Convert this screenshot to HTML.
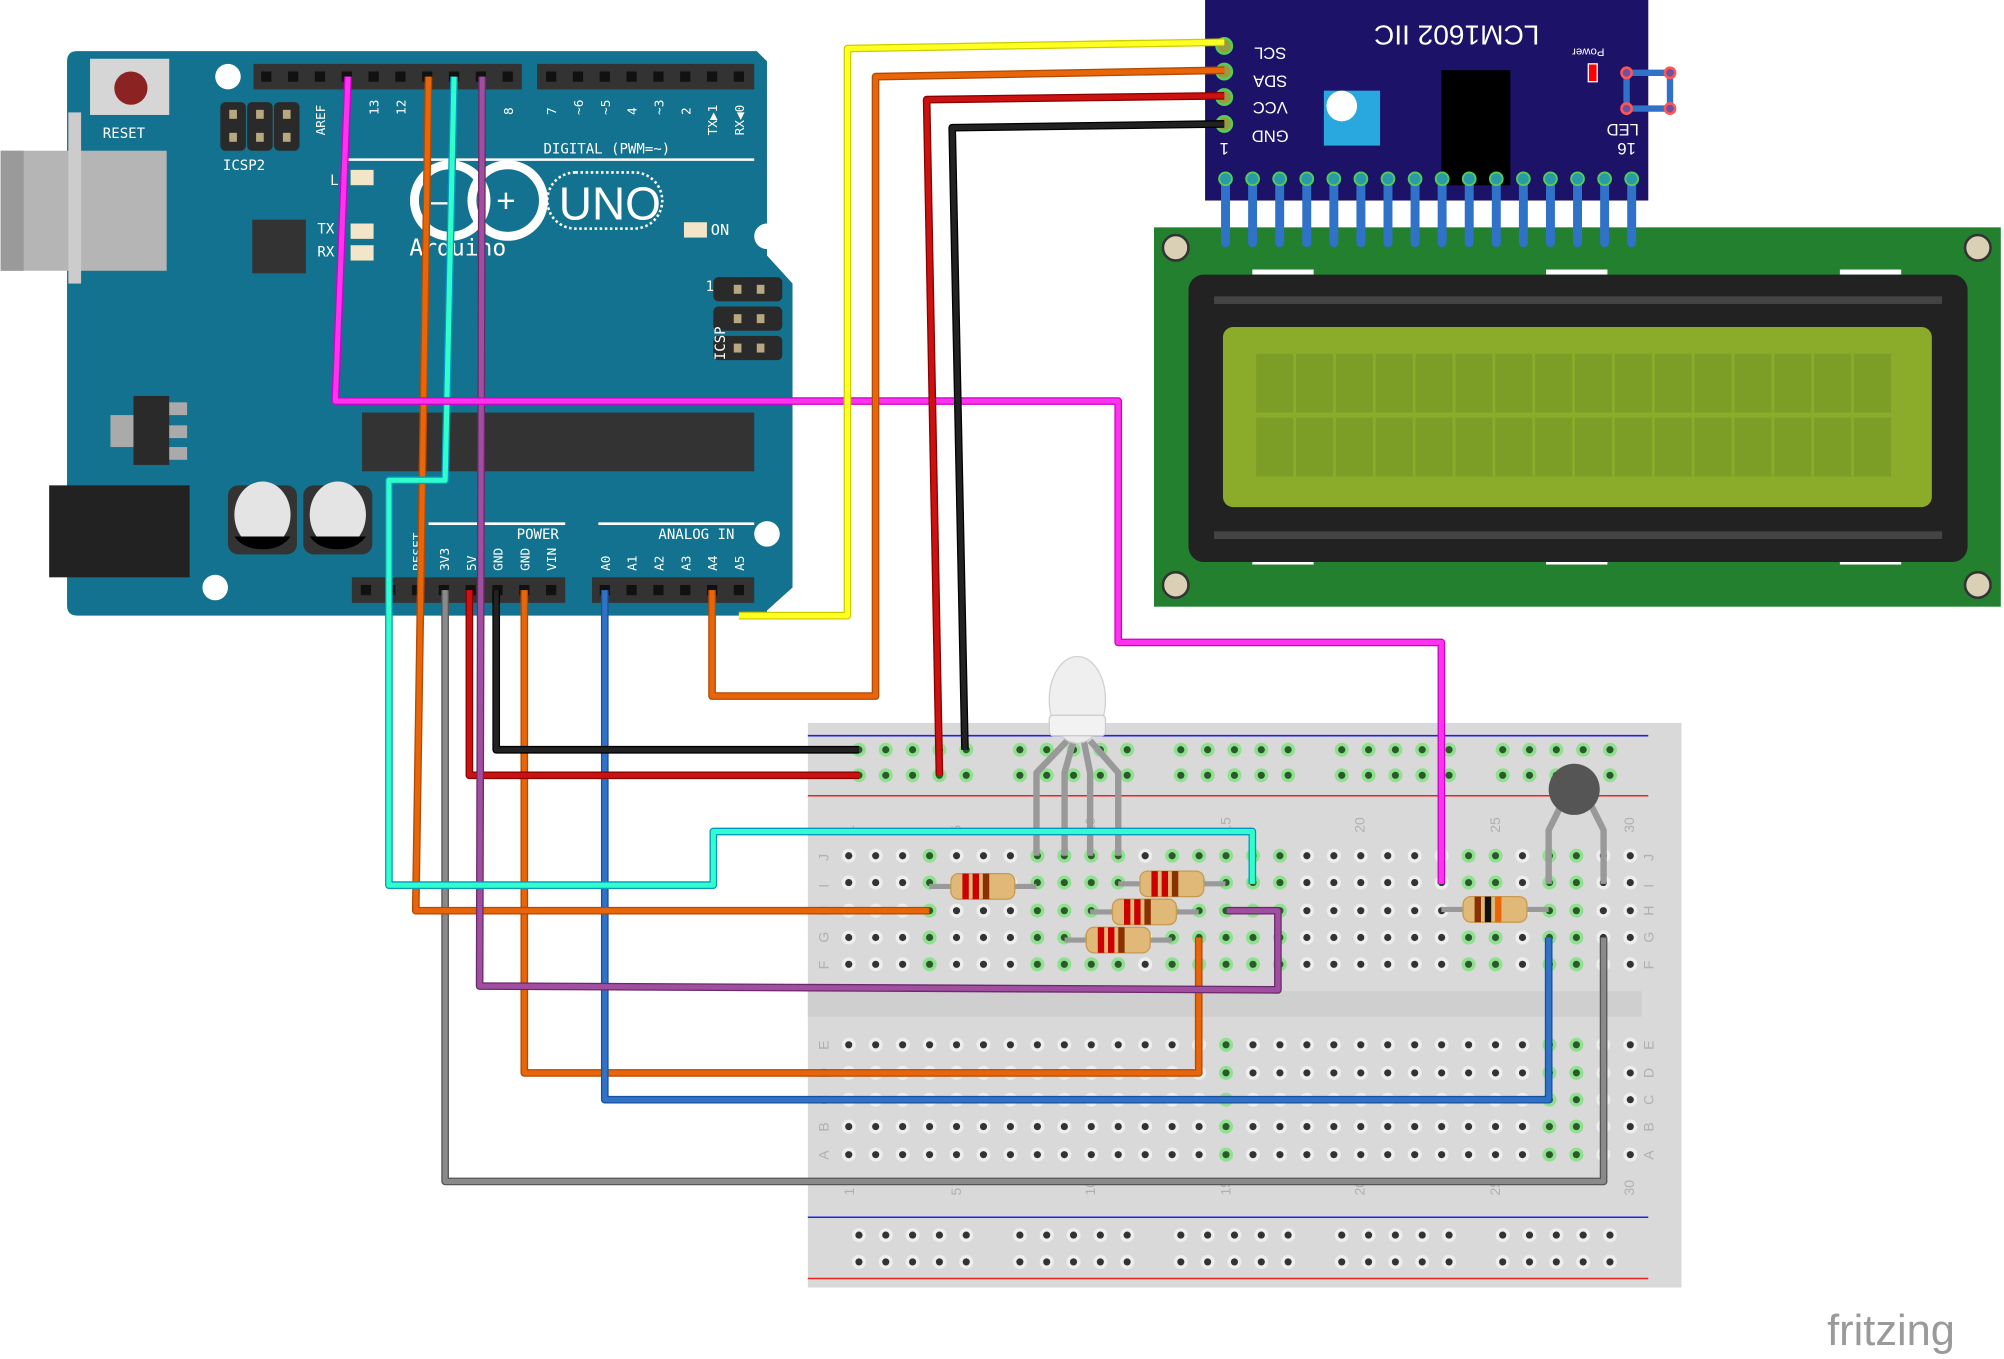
<!DOCTYPE html>
<html><head><meta charset="utf-8"><style>
html,body{margin:0;padding:0;background:#fff;}
svg{display:block;}
.m{font-family:"DejaVu Sans Mono","Liberation Mono",monospace;}
.s{font-family:"Liberation Sans",sans-serif;}
</style></head><body>
<svg id="s" width="2004" height="1359" viewBox="0 0 1568 1064" xmlns="http://www.w3.org/2000/svg">
<!-- Arduino -->
<path d="M52,48 Q52,40 60,40 L592,40 L600,48 L600,200 L620,222 L620,460 L600,478 L600,482 L60,482 Q52,482 52,474 Z" fill="#13728f"/>
<rect x="0" y="118" width="130" height="94" fill="#b5b5b5"/>
<rect x="0" y="118" width="18" height="94" fill="#9a9a9a"/>
<rect x="53" y="88" width="10" height="134" fill="#ccc"/>
<rect x="70" y="46" width="62" height="44" fill="#d6d6d6"/>
<circle cx="102" cy="69" r="13" fill="#8b2323"/>
<text class="m" x="80" y="108" font-size="11" fill="#fff">RESET</text>
<circle cx="178" cy="60" r="10" fill="#fff"/>
<circle cx="600" cy="185" r="10" fill="#fff"/><circle cx="600" cy="418" r="10" fill="#fff"/><circle cx="168" cy="460" r="10" fill="#fff"/>
<g fill="#2a2a2a"><rect x="172" y="80" width="20" height="38" rx="4"/><rect x="193" y="80" width="20" height="38" rx="4"/><rect x="214" y="80" width="20" height="38" rx="4"/>
<rect x="558" y="217" width="54" height="19" rx="4"/><rect x="558" y="240" width="54" height="19" rx="4"/><rect x="558" y="263" width="54" height="19" rx="4"/></g>
<g fill="#b8a880"><rect x="179" y="86" width="6" height="7"/><rect x="200" y="86" width="6" height="7"/><rect x="221" y="86" width="6" height="7"/><rect x="179" y="104" width="6" height="7"/><rect x="200" y="104" width="6" height="7"/><rect x="221" y="104" width="6" height="7"/>
<rect x="574" y="223" width="6" height="7"/><rect x="592" y="223" width="6" height="7"/><rect x="574" y="246" width="6" height="7"/><rect x="592" y="246" width="6" height="7"/><rect x="574" y="269" width="6" height="7"/><rect x="592" y="269" width="6" height="7"/></g>
<text class="m" x="174" y="133" font-size="11" fill="#fff">ICSP2</text>
<text class="m" x="552" y="228" font-size="11" fill="#fff">1</text>
<text class="m" x="0" y="0" font-size="11" fill="#fff" transform="translate(567,282) rotate(-90)">ICSP</text>
<rect x="198" y="50" width="210" height="20" fill="#333"/>
<rect x="420" y="50" width="170" height="20" fill="#333"/>
<rect x="197" y="172" width="42" height="42" fill="#333"/>
<g class="m" font-size="10" fill="#fff" id="hdrlbl"></g>
<text class="m" x="425" y="120" font-size="11" fill="#fff">DIGITAL (PWM=~)</text>
<line x1="270" y1="125" x2="590" y2="125" stroke="#fff" stroke-width="2"/>
<circle cx="352" cy="157" r="28" fill="none" stroke="#fff" stroke-width="7"/>
<circle cx="397" cy="157" r="28" fill="none" stroke="#fff" stroke-width="7"/>
<text class="s" x="388" y="166" font-size="26" fill="#fff">+</text>
<text class="s" x="337" y="166" font-size="26" fill="#fff">–</text>
<rect x="428" y="135" width="90" height="44" rx="22" fill="none" stroke="#fff" stroke-width="2" stroke-dasharray="2,2"/>
<text class="s" x="437" y="172" font-size="36" fill="#fff">UNO</text>
<text class="m" x="320" y="200" font-size="18" fill="#fff">Arduino</text>
<text class="m" x="258" y="145" font-size="11" fill="#fff">L</text><text class="m" x="248" y="183" font-size="11" fill="#fff">TX</text><text class="m" x="248" y="201" font-size="11" fill="#fff">RX</text>
<rect x="274" y="133" width="18" height="12" fill="#f3e6c8"/><rect x="274" y="175" width="18" height="12" fill="#f3e6c8"/><rect x="274" y="192" width="18" height="12" fill="#f3e6c8"/>
<rect x="535" y="174" width="18" height="12" fill="#f3e6c8"/>
<text class="m" x="556" y="184" font-size="12" fill="#fff">ON</text>
<rect x="104" y="310" width="28" height="54" fill="#2a2a2a"/><rect x="86" y="325" width="18" height="25" fill="#aaa"/>
<rect x="132" y="315" width="14" height="10" fill="#aaa"/><rect x="132" y="333" width="14" height="10" fill="#aaa"/><rect x="132" y="350" width="14" height="10" fill="#aaa"/>
<rect x="38" y="380" width="110" height="72" fill="#222"/>
<rect x="178" y="380" width="54" height="54" rx="8" fill="#333"/><rect x="237" y="380" width="54" height="54" rx="8" fill="#333"/>
<ellipse cx="205" cy="403" rx="22" ry="26" fill="#e4e4e4"/><ellipse cx="264" cy="403" rx="22" ry="26" fill="#e4e4e4"/>
<path d="M183,420 L227,420 Q220,430 205,430 Q190,430 183,420Z" fill="#000"/><path d="M242,420 L286,420 Q279,430 264,430 Q249,430 242,420Z" fill="#000"/>
<rect x="283" y="323" width="307" height="46" fill="#333"/>
<line x1="335" y1="410" x2="442" y2="410" stroke="#fff" stroke-width="2"/>
<line x1="468" y1="410" x2="590" y2="410" stroke="#fff" stroke-width="2"/>
<text class="m" x="404" y="422" font-size="11" fill="#fff">POWER</text>
<text class="m" x="515" y="422" font-size="11" fill="#fff">ANALOG IN</text>
<rect x="275" y="452" width="167" height="20" fill="#333"/>
<rect x="463" y="452" width="127" height="20" fill="#333"/>
<g id="ardpins"></g>
<!-- LCD -->
<rect x="903" y="178" width="663" height="297" fill="#23802f"/>
<circle cx="920" cy="194" r="10" fill="#d9d0b5" stroke="#333" stroke-width="2"/><circle cx="1548" cy="194" r="10" fill="#d9d0b5" stroke="#333" stroke-width="2"/>
<circle cx="920" cy="458" r="10" fill="#d9d0b5" stroke="#333" stroke-width="2"/><circle cx="1548" cy="458" r="10" fill="#d9d0b5" stroke="#333" stroke-width="2"/>
<g fill="#fff"><rect x="980" y="211" width="48" height="4"/><rect x="1210" y="211" width="48" height="4"/><rect x="1440" y="211" width="48" height="4"/><rect x="980" y="438" width="48" height="4"/><rect x="1210" y="438" width="48" height="4"/><rect x="1440" y="438" width="48" height="4"/></g>
<rect x="930" y="215" width="610" height="225" rx="12" fill="#222"/>
<rect x="950" y="232" width="570" height="6" fill="#444"/><rect x="950" y="416" width="570" height="6" fill="#444"/>
<rect x="957" y="256" width="555" height="141" rx="8" fill="#8aac2a"/>
<g id="cells"></g>
<!-- I2C -->
<rect x="943" y="0" width="347" height="157" fill="#1c1268"/>
<text class="s" x="1140" y="20" font-size="22" fill="#fff" text-anchor="middle" transform="rotate(180 1140 20)">LCM1602 IIC</text>
<rect x="1036" y="71" width="44" height="43" fill="#29a8e0"/><circle cx="1050" cy="83" r="12" fill="#fff"/>
<rect x="1128" y="55" width="54" height="90" fill="#000"/>
<rect x="1243" y="50" width="7" height="14" fill="#f00" stroke="#fff"/>
<g class="s" fill="#fff" font-size="13" text-anchor="middle">
<text x="994" y="37" transform="rotate(180 994 37)">SCL</text>
<text x="994" y="59" transform="rotate(180 994 59)">SDA</text>
<text x="994" y="80" transform="rotate(180 994 80)">VCC</text>
<text x="994" y="102" transform="rotate(180 994 102)">GND</text>
<text x="1270" y="97" transform="rotate(180 1270 97)">LED</text>
<text x="1243" y="38" font-size="9" transform="rotate(180 1243 38)">Power</text>
<text x="958" y="112" transform="rotate(180 958 112)">1</text><text x="1273" y="112" transform="rotate(180 1273 112)">16</text>
</g>
<rect x="1273" y="57" width="34" height="28" fill="none" stroke="#2f72c8" stroke-width="5"/>
<circle cx="1273" cy="57" r="4" fill="#7050a0" stroke="#f55" stroke-width="2"/><circle cx="1273" cy="85" r="4" fill="#7050a0" stroke="#f55" stroke-width="2"/>
<circle cx="1307" cy="57" r="4" fill="#7050a0" stroke="#f55" stroke-width="2"/><circle cx="1307" cy="85" r="4" fill="#7050a0" stroke="#f55" stroke-width="2"/>
<g id="lcdpins"></g>
<!-- Breadboard -->
<rect x="632" y="566" width="684" height="442" fill="#d9d9d9"/>
<line x1="632" y1="576" x2="1290" y2="576" stroke="#2020ee" stroke-width="1.2"/>
<line x1="632" y1="623" x2="1290" y2="623" stroke="#ee2020" stroke-width="1.2"/>
<line x1="632" y1="953" x2="1290" y2="953" stroke="#2020ee" stroke-width="1.2"/>
<line x1="632" y1="1001" x2="1290" y2="1001" stroke="#ee2020" stroke-width="1.2"/>
<rect x="632" y="776" width="653" height="20" fill="#cfcfcf"/>
<g id="holes"></g>
<g class="s" fill="#b0b0b0" font-size="11" id="bblabels"></g>
<!-- LED -->
<g fill="none" stroke="#999" stroke-width="5" stroke-linejoin="round">
<path d="M835,580 L811,605 L811,670"/><path d="M840,580 L833,605 L833,670"/><path d="M848,580 L853,605 L853,670"/><path d="M853,580 L875,605 L875,670"/>
</g>
<ellipse cx="843" cy="548" rx="22" ry="34" fill="#eee" opacity="0.9" stroke="#ccc"/>
<rect x="821" y="560" width="44" height="16" rx="3" fill="#f2f2f2" stroke="#ccc"/>
<!-- thermistor -->
<path d="M1222,630 L1212,650 L1212,692 M1245,630 L1255,650 L1255,692" fill="none" stroke="#999" stroke-width="5"/>
<circle cx="1232" cy="618" r="20" fill="#555"/>
<g id="wires"></g>
<g id="res"></g>
<text class="s" x="1430" y="1053" font-size="34" fill="#9a9a9a">fritzing</text>
</svg>
<script>
const NS="http://www.w3.org/2000/svg";
function el(p,t,a){const e=document.createElementNS(NS,t);for(const k in a)e.setAttribute(k,a[k]);document.getElementById(p).appendChild(e);return e;}
[208,229,250,271,292,313,334,355,376,397].forEach(x=>el('ardpins','rect',{x:x-4,y:56,width:8,height:8,fill:'#111'}));
[431,452,473,494,515,536,557,578].forEach(x=>el('ardpins','rect',{x:x-4,y:56,width:8,height:8,fill:'#111'}));
[286,305,326,347,368,389,410,431,473,494,515,536,557,578].forEach(x=>el('ardpins','rect',{x:x-4,y:458,width:8,height:8,fill:'#111'}));
// header labels
[[254,'AREF'],[296,'13'],[317,'12'],[401,'8'],[435,'7'],[456,'~6'],[477,'~5'],[498,'4'],[519,'~3'],[540,'2'],[561,'TX▶1'],[582,'RX◀0']].forEach(([x,t])=>{el('hdrlbl','text',{x:0,y:0,transform:`translate(${x},${t.length>2?106:90}) rotate(-90)`}).textContent=t;});
[[330,'RESET'],[351,'3V3'],[372,'5V'],[393,'GND'],[414,'GND'],[435,'VIN'],[477,'A0'],[498,'A1'],[519,'A2'],[540,'A3'],[561,'A4'],[582,'A5']].forEach(([x,t])=>{el('hdrlbl','text',{x:0,y:0,transform:`translate(${x},447) rotate(-90)`}).textContent=t;});
for(let r=0;r<2;r++)for(let c=0;c<16;c++)el('cells','rect',{x:983+c*31.2,y:277+r*50,width:29,height:46,fill:'#7c9e26'});
for(let i=0;i<16;i++){const x=959+i*21.2;el('lcdpins','line',{x1:x,y1:140,x2:x,y2:190,stroke:'#2f72c8','stroke-width':7,'stroke-linecap':'round'});el('lcdpins','circle',{cx:x,cy:140,r:5,fill:'#2a9aa8',stroke:'#5c5','stroke-width':1.5});}
[36,56,76,97].forEach(y=>el('lcdpins','circle',{cx:958,cy:y,r:6,fill:'#9a9a40',stroke:'#5c5','stroke-width':2}));
function hole(x,y,g){el('holes','circle',{cx:x,cy:y,r:5.5,fill:g?'#8fe08f':'#eeeeee'});el('holes','circle',{cx:x,cy:y,r:2.8,fill:g?'#2a5a2a':'#333'});}
const grp=[672,798,924,1050,1176];
grp.forEach(g=>{for(let i=0;i<5;i++){const x=g+i*21;hole(x,587,true);hole(x,607,true);hole(x,967,false);hole(x,988,false);}});
const gCols=[4,8,9,10,11,13,14,15,16,17,24,25,27,28];
const gColsB=[15,27,28];
for(let c=1;c<=30;c++){const x=664+(c-1)*21.1;[670,691,713,734,755].forEach(y=>hole(x,y,gCols.includes(c)));[818,840,861,882,904].forEach(y=>hole(x,y,gColsB.includes(c)));}
['J','I','H','G','F'].forEach((t,i)=>{const y=[670,691,713,734,755][i];el('bblabels','text',{x:0,y:0,transform:`translate(648,${y+4}) rotate(-90)`}).textContent=t;el('bblabels','text',{x:0,y:0,transform:`translate(1294,${y+4}) rotate(-90)`}).textContent=t;});
['E','D','C','B','A'].forEach((t,i)=>{const y=[818,840,861,882,904][i];el('bblabels','text',{x:0,y:0,transform:`translate(648,${y+4}) rotate(-90)`}).textContent=t;el('bblabels','text',{x:0,y:0,transform:`translate(1294,${y+4}) rotate(-90)`}).textContent=t;});
[[1,664],[5,748],[10,853],[15,959],[20,1064],[25,1170],[30,1275]].forEach(([n,x])=>{el('bblabels','text',{x:0,y:0,transform:`translate(${x+4},652) rotate(-90)`}).textContent=n;el('bblabels','text',{x:0,y:0,transform:`translate(${x+4},936) rotate(-90)`}).textContent=n;});
function wire(pts,c,d){el('wires','polyline',{points:pts,fill:'none',stroke:d,'stroke-width':6,'stroke-linejoin':'round'});el('wires','polyline',{points:pts,fill:'none',stroke:c,'stroke-width':4,'stroke-linejoin':'round'});}
wire("348,462 348,925 1255,925 1255,734","#8a8a8a","#555");
wire("410,462 410,840 938,840 938,734","#e8650a","#b04a05");
wire("473,462 473,861 1212,861 1212,734","#2f72c8","#1a4f99");
wire("367,462 367,607 672,607","#cc1111","#880000");
wire("388,462 388,587 672,587","#222","#000");
wire("335,60 325,713 727,713","#e8650a","#b04a05");
wire("377,60 375,772 1000,775 1000,713 960,713","#a04ea0","#6a2a6a");
wire("355,60 348,376 304,376 304,693 558,693 558,651 980,651 980,692","#30ffcc","#0098c0");
wire("272,60 262,314 875,314 875,503 1128,503 1128,692","#ff33ee","#cc00cc");
wire("578,482 663,482 663,38 958,33","#ffff22","#cccc00");
wire("557,462 557,545 685,545 685,60 958,55","#e8650a","#b04a05");
wire("958,75 725,78 735,607","#cc1111","#880000");
wire("958,97 745,100 755,587","#222","#000");
function res(x1,x2,y,bands){el('res','line',{x1:x1,y1:y,x2:x2,y2:y,stroke:'#999','stroke-width':4});const cx=(x1+x2)/2;el('res','rect',{x:cx-25,y:y-10,width:50,height:20,rx:6,fill:'#e0b878',stroke:'#c89a50'});bands.forEach((b,i)=>el('res','rect',{x:cx-16+i*8,y:y-10,width:5,height:20,fill:b}));}
res(727,811,694,['#c00','#c00','#8b3000']);
res(875,959,692,['#c00','#c00','#8b3000']);
res(853,938,714,['#c00','#c00','#8b3000']);
res(833,917,736,['#c00','#c00','#8b3000']);
res(1128,1212,712,['#8b3000','#111','#e8650a']);
</script>
</body></html>
